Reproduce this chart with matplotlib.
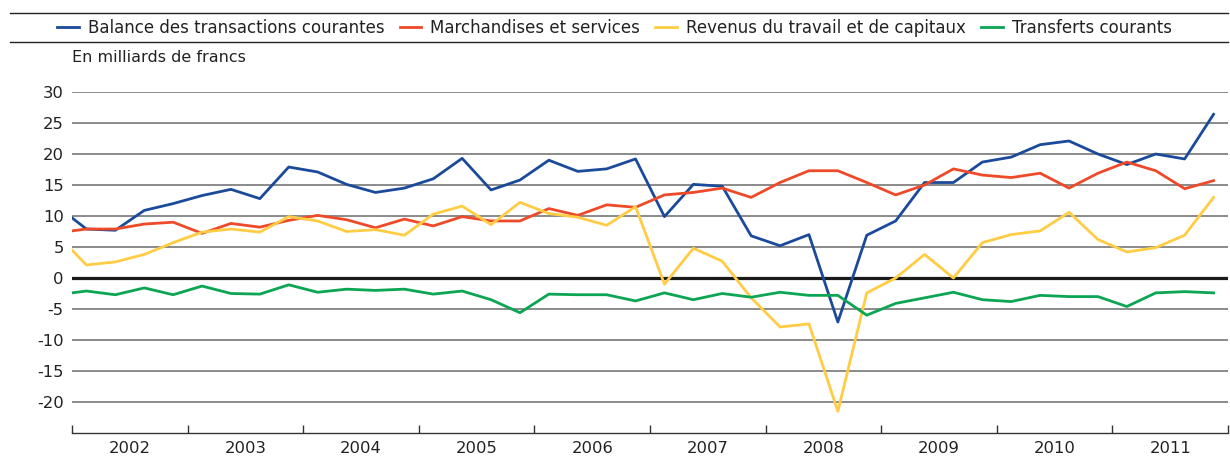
import matplotlib
matplotlib.use("Agg")
import matplotlib.pyplot as plt
from matplotlib.lines import Line2D

plt.rcParams['font.family'] = ['DejaVu Sans']
plt.rcParams['axes.unicode_minus'] = False

# Quarterly data, first value = 2001 Q4 (only partly visible), then 2002 Q1 .. 2011 Q4
start_year = 2001
start_quarter = 4
years = list(range(2002, 2012))

balance = [11.5,
           7.9, 7.7, 10.9, 12.0,
           13.3, 14.3, 12.8, 17.9,
           17.1, 15.1, 13.8, 14.5,
           16.0, 19.3, 14.2, 15.8,
           19.0, 17.2, 17.6, 19.2,
           9.9, 15.1, 14.8, 6.8,
           5.2, 7.0, -7.1, 6.9,
           9.2, 15.4, 15.4, 18.7,
           19.5, 21.5, 22.1, 20.0,
           18.3, 20.0, 19.2, 26.4]
marchandises = [7.3,
                7.9, 7.9, 8.7, 9.0,
                7.2, 8.8, 8.2, 9.3,
                10.1, 9.4, 8.1, 9.5,
                8.4, 9.9, 9.2, 9.2,
                11.2, 10.1, 11.8, 11.4,
                13.4, 13.8, 14.5, 13.0,
                15.4, 17.3, 17.3, 15.4,
                13.4, 15.0, 17.6, 16.6,
                16.2, 16.9, 14.5, 16.9,
                18.7, 17.3, 14.4, 15.7]
revenus = [6.9,
           2.1, 2.6, 3.8, 5.7,
           7.4, 7.9, 7.4, 9.9,
           9.2, 7.5, 7.8, 6.9,
           10.3, 11.6, 8.6, 12.2,
           10.4, 9.8, 8.5, 11.5,
           -1.0, 4.8, 2.7, -3.2,
           -7.9, -7.4, -21.5, -2.4,
           0.0, 3.8, 0.0, 5.7,
           7.0, 7.6, 10.6, 6.2,
           4.2, 4.9, 6.9, 13.0]
transferts = [-2.7,
              -2.1, -2.7, -1.6, -2.7,
              -1.3, -2.5, -2.6, -1.1,
              -2.3, -1.8, -2.0, -1.8,
              -2.6, -2.1, -3.5, -5.6,
              -2.6, -2.7, -2.7, -3.7,
              -2.4, -3.5, -2.5, -3.1,
              -2.3, -2.8, -2.8, -6.0,
              -4.1, -3.2, -2.3, -3.5,
              -3.8, -2.8, -3.0, -3.0,
              -4.6, -2.4, -2.2, -2.4]

labels = ["Balance des transactions courantes", "Marchandises et services",
          "Revenus du travail et de capitaux", "Transferts courants"]
colors = ["#1B4A9A", "#EE4A2A", "#FFCC44", "#0BA553"]
y_ticks = [-20, -15, -10, -5, 0, 5, 10, 15, 20, 25, 30]
unit_label = "En milliards de francs"

# quarter positions (mid-quarter, fractional years)
n = len(balance)
x = []
for i in range(n):
    q_index = (start_quarter - 1) + i
    yr = start_year + q_index // 4
    q = q_index % 4 + 1
    x.append(yr + (q - 0.5) / 4)

W, H = 1230, 457
fig = plt.figure(figsize=(W / 100, H / 100), dpi=100)
ax = fig.add_axes([72 / W, 1 - 433 / H, (1228 - 72) / W, (433 - 92) / H])

txt = "#222222"
ax.set_ylim(-25, 30)
ax.set_xlim(years[0], years[-1] + 1)
ax.set_yticks(y_ticks)
ax.set_yticklabels([str(v) for v in y_ticks])
ax.yaxis.grid(True, color="#8a8a8a", linewidth=1.4)
ax.set_axisbelow(True)
ax.axhline(0, color="#1a1a1a", linewidth=2.3, zorder=1.5)

for vals, c, lab in zip([balance, marchandises, revenus, transferts], colors, labels):
    ax.plot(x, vals, color=c, linewidth=2.0, label=lab, zorder=3, clip_on=True)

for s in ["top", "right", "left"]:
    ax.spines[s].set_visible(False)
ax.spines["bottom"].set_color("#333333")
ax.spines["bottom"].set_linewidth(1.0)

ax.set_xticks(years + [years[-1] + 1])
ax.set_xticklabels([])
ax.set_xticks([y + 0.5 for y in years], minor=True)
ax.set_xticklabels([str(y) for y in years], minor=True)
ax.tick_params(axis="x", which="major", direction="in", length=5.5, width=1.0, color="#333333")
ax.tick_params(axis="x", which="minor", length=0, pad=6, labelsize=11.8, labelcolor=txt)
ax.tick_params(axis="y", length=0, pad=6, labelsize=11.8, labelcolor=txt)

fig.text(72 / W, 1 - 57 / H, unit_label, ha="left", va="center", fontsize=11.5, color=txt)

# legend band lines
fig.add_artist(Line2D([10 / W, 1228 / W], [1 - 13 / H, 1 - 13 / H], color="#222222", linewidth=1.0))
fig.add_artist(Line2D([10 / W, 1228 / W], [1 - 42 / H, 1 - 42 / H], color="#222222", linewidth=1.0))

handles, labs = ax.get_legend_handles_labels()
leg = fig.legend(handles, labs, loc="center", bbox_to_anchor=(614.5 / W, 1 - 28 / H), ncol=4,
                 frameon=False, fontsize=12.0, handlelength=1.3, handletextpad=0.55,
                 columnspacing=0.9, borderaxespad=0, borderpad=0)
for t in leg.get_texts():
    t.set_color(txt)

fig.savefig("out.png", dpi=100)
